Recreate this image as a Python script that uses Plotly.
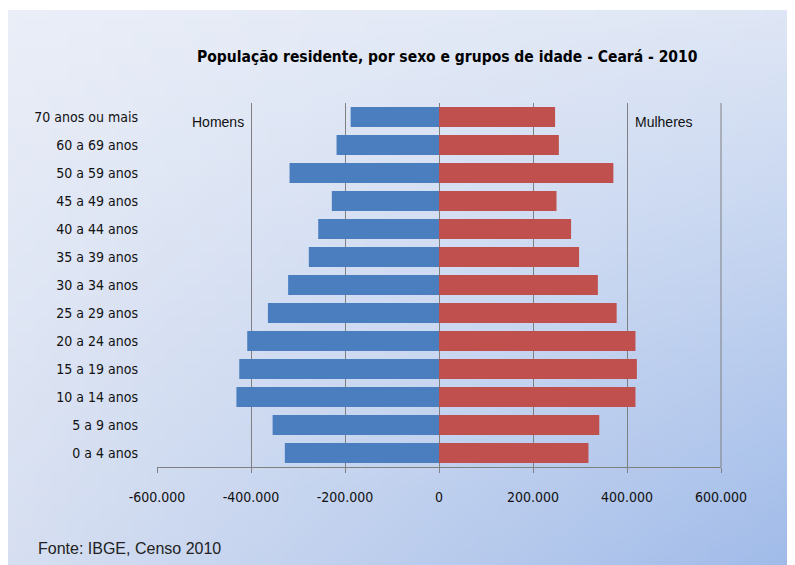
import base64, struct, zlib
import plotly.graph_objects as go

# ---- data ----
faixas = ["0 a 4 anos", "5 a 9 anos", "10 a 14 anos", "15 a 19 anos", "20 a 24 anos",
          "25 a 29 anos", "30 a 34 anos", "35 a 39 anos", "40 a 44 anos", "45 a 49 anos",
          "50 a 59 anos", "60 a 69 anos", "70 anos ou mais"]
homens = [328000, 354000, 431000, 425000, 408000, 364000, 321000, 277000, 257000, 228000,
          318000, 218000, 188000]
mulheres = [318000, 341000, 418000, 421000, 418000, 378000, 338000, 298000, 281000, 250000,
            371000, 255000, 247000]
tick_vals = [-600000, -400000, -200000, 0, 200000, 400000, 600000]
tick_text = ["-600.000", "-400.000", "-200.000", "0", "200.000", "400.000", "600.000"]

titulo = "População residente, por sexo e grupos de idade - Ceará - 2010"
fonte = "Fonte: IBGE, Censo 2010"

NARROW = "Liberation Sans Narrow, Arial Narrow, DejaVu Sans Condensed, Liberation Sans, sans-serif"
REG = "Liberation Sans, Arial, sans-serif"

# ---- background gradient image (decoration) ----
def gradient_png(w, h):
    tl, tr, bl, br = (234, 238, 247), (222, 230, 245), (214, 223, 241), (160, 187, 233)
    raw = bytearray()
    for j in range(h):
        v = j / (h - 1)
        raw.append(0)
        for i in range(w):
            u = i / (w - 1)
            px = [round((1-u)*(1-v)*a + u*(1-v)*b + (1-u)*v*c + u*v*d)
                  for a, b, c, d in zip(tl, tr, bl, br)]
            raw.extend(px)
    def chunk(t, d):
        c = struct.pack(">I", len(d)) + t + d
        return c + struct.pack(">I", zlib.crc32(t + d) & 0xffffffff)
    png = b"\x89PNG\r\n\x1a\n" + chunk(b"IHDR", struct.pack(">IIBBBBB", w, h, 8, 2, 0, 0, 0)) \
        + chunk(b"IDAT", zlib.compress(bytes(raw), 9)) + chunk(b"IEND", b"")
    return "data:image/png;base64," + base64.b64encode(png).decode()

W, H = 795, 565
OFF = 8  # page body margin
# plot area in screen pixels: x 157..721, y 103..467
L = 157 - OFF
T = 103 - OFF
R = W - (721 - OFF)
B = H - (467 - OFF)
pw, ph = W - L - R, H - T - B

def px_x(sx):  # screen x -> paper x
    return (sx - OFF - L) / pw

def px_y(sy):  # screen y -> paper y
    return (H - B - (sy - OFF)) / ph

fig = go.Figure()
fig.add_trace(go.Bar(y=faixas, x=[-v for v in homens], orientation="h", name="Homens",
                     marker=dict(color="#4A7EBF", line=dict(width=0)),
                     customdata=homens, hovertemplate="%{y}: %{customdata}<extra>Homens</extra>"))
fig.add_trace(go.Bar(y=faixas, x=mulheres, orientation="h", name="Mulheres",
                     marker=dict(color="#C0504D", line=dict(width=0)),
                     hovertemplate="%{y}: %{x}<extra>Mulheres</extra>"))

fig.update_layout(
    width=W, height=H,
    margin=dict(l=L, r=R, t=T, b=B),
    paper_bgcolor="white", plot_bgcolor="white",
    barmode="relative", bargap=0.28,
    showlegend=False,
    font=dict(family=NARROW, size=14, color="#111111"),
    xaxis=dict(range=[-600000, 600000], tickvals=tick_vals, ticktext=tick_text,
               showgrid=True, gridcolor="#808080", gridwidth=1, zeroline=False,
               showline=True, linecolor="#808080", ticks="outside", ticklen=5,
               tickcolor="#808080", ticklabelstandoff=12,
               tickfont=dict(family=NARROW, size=14, color="#111111")),
    yaxis=dict(categoryorder="array", categoryarray=faixas, showgrid=False,
               zeroline=False, showline=False, ticks="", ticklabelstandoff=18,
               tickfont=dict(family=NARROW, size=14, color="#111111")),
    images=[dict(source=gradient_png(48, 36), xref="paper", yref="paper",
                 x=px_x(8), y=px_y(10), sizex=(W - 0) / pw, sizey=(H - 2) / ph,
                 xanchor="left", yanchor="top", sizing="stretch", layer="below", opacity=1)],
    shapes=[dict(type="line", xref="paper", yref="paper", x0=1, x1=1, y0=0, y1=1,
                 line=dict(color="#808080", width=1))],
    annotations=[
        dict(text="<b>" + titulo + "</b>", xref="paper", yref="paper",
             x=px_x(447), y=px_y(57), xanchor="center", yanchor="middle",
             showarrow=False, font=dict(family=NARROW, size=15.5, color="#000000")),
        dict(text="Homens", xref="x", yref="paper", x=-470000, y=px_y(122),
             xanchor="center", yanchor="middle", showarrow=False,
             font=dict(family=REG, size=14, color="#111111")),
        dict(text="Mulheres", xref="x", yref="paper", x=479000, y=px_y(122),
             xanchor="center", yanchor="middle", showarrow=False,
             font=dict(family=REG, size=14, color="#111111")),
        dict(text=fonte, xref="paper", yref="paper", x=px_x(36), y=px_y(548),
             xanchor="left", yanchor="middle", showarrow=False,
             font=dict(family=REG, size=16, color="#222222")),
    ],
)

fig.write_html("out.html")
